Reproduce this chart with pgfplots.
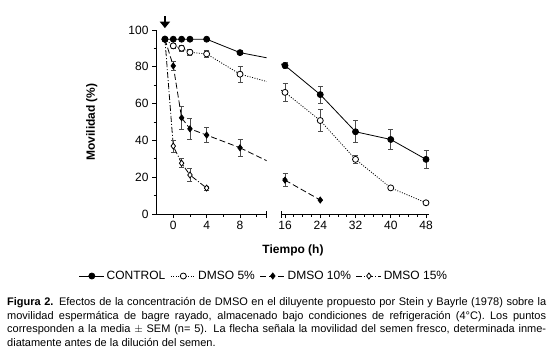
\documentclass[border=0pt]{standalone}
\usepackage{pgfplots}
\pgfplotsset{compat=1.18}
\usepackage{fontspec}
\setmainfont{Liberation Sans}
\usetikzlibrary{arrows.meta}
\begin{document}
\begin{tikzpicture}
\useasboundingbox (0pt,0pt) rectangle (556pt,357pt);
\pgfplotsset{
  every axis/.append style={
    scale only axis, height=184pt, ymin=0, ymax=100, anchor=south west,
    tick align=outside, major tick length=4pt, minor tick length=2.5pt,
    axis line style={line width=0.8pt}, every tick/.style={black, line width=0.7pt},
    tick label style={font=\fontsize{12}{14}\selectfont},
    /pgf/number format/assume math mode=true,
  },
  ctrl/.style={black, line width=0.8pt, mark=*, mark size=3pt},
  d5/.style={black, line width=0.8pt, dash pattern=on 1pt off 1.5pt, mark=*, mark size=3pt, mark options={solid, fill=white}},
  d10/.style={black, line width=0.8pt, dash pattern=on 6pt off 3pt, mark=diamond*, mark size=3pt, mark options={solid, fill=black}},
  d15/.style={black, line width=0.8pt, dash pattern=on 6pt off 2pt on 1pt off 2pt, mark=diamond*, mark size=3pt, mark options={solid, fill=white}},
  eb/.style={error bars/.cd, y dir=both, y explicit,
    error bar style={black!70, line width=0.7pt, solid},
    error mark options={rotate=90, mark size=2.5pt, black!70, line width=0.7pt, solid}},
}
% ---------- left panel ----------
\begin{axis}[name=left, at={(156pt,143pt)}, width=110.7pt,
  xmin=-2.07, xmax=11.2,
  axis x line*=bottom, axis y line*=left,
  xtick={0,4,8}, minor xtick={2,6,10},
  ytick={0,20,...,100}, minor ytick={10,30,...,90},
  ylabel={\bfseries Movilidad (\%)},
  ylabel style={font=\fontsize{12}{14}\selectfont, at={(axis description cs:-0.58,0.5)}, anchor=center},
  legend columns=4, reverse legend,
  legend style={draw=none, fill=none, at={(axis description cs:0.976,-0.337)}, anchor=center,
    font=\fontsize{12}{14}\selectfont, inner sep=0pt,
    /tikz/every even column/.append style={column sep=3pt}},
  legend image code/.code={\draw[mark repeat=2, mark phase=2] plot coordinates {(0pt,0pt) (12.5pt,0pt) (25pt,0pt)};},
]
% connecting lines to the break
\addplot[black, line width=0.8pt, forget plot] coordinates {(8,87.7) (16,80.7)};
\addplot[black, line width=0.8pt, dash pattern=on 1pt off 1.5pt, forget plot] coordinates {(8,76) (16,66.1)};
\addplot[black, line width=0.8pt, dash pattern=on 6pt off 3pt, forget plot] coordinates {(8,36) (16,18.4)};
\addplot[d15, eb] coordinates {(-1,95) +- (0,0) (0,36.9) +- (0,3.2) (1,27.6) +- (0,2.5) (2,21.2) +- (0,3.4) (4,14.1) +- (0,1)};
\addplot[d10, eb] coordinates {(-1,95) +- (0,0) (0,80.5) +- (0,2.7) (1,52.3) +- (0,6.3) (2,46.3) +- (0,5.9) (4,42.9) +- (0,4.2) (8,36) +- (0,4.5)};
\addplot[d5, eb] coordinates {(-1,95) +- (0,0) (0,91.4) +- (0,1.2) (1,90.1) +- (0,1.8) (2,87.9) +- (0,1.8) (4,87) +- (0,2) (8,76) +- (0,4.2)};
\addplot[ctrl, eb] coordinates {(-1,95) +- (0,0) (0,95) +- (0,0) (1,95) +- (0,0) (2,95) +- (0,0) (4,95) +- (0,0.5) (8,87.7) +- (0,1)};
\legend{DMSO 15\%, DMSO 10\%, DMSO 5\%, CONTROL}
\path (axis cs:-1,101) coordinate (arrowtip);
\end{axis}
% ---------- right panel ----------
\begin{axis}[name=right, at={(281pt,143pt)}, width=148.3pt,
  xmin=15.09, xmax=48.75,
  axis x line*=bottom, axis y line=none,
  xtick={16,24,...,48}, minor xtick={18,20,22,26,28,30,34,36,38,42,44,46},
  ytick=\empty,
  xlabel={\bfseries Tiempo (h)},
  xlabel style={font=\fontsize{12}{14}\selectfont, at={(axis description cs:0.081,-0.196)}, anchor=center},
]
\addplot[black, line width=0.8pt, forget plot] coordinates {(8,87.7) (16,80.7)};
\addplot[black, line width=0.8pt, dash pattern=on 1pt off 1.5pt, forget plot] coordinates {(8,76) (16,66.1)};
\addplot[black, line width=0.8pt, dash pattern=on 6pt off 3pt, forget plot] coordinates {(8,36) (16,18.4)};
\addplot[d10, eb] coordinates {(16,18.4) +- (0,3.6) (24,7.6) +- (0,0)};
\addplot[d5, eb] coordinates {(16,66.1) +- (0,5) (24,50.8) +- (0,5.9) (32,29.7) +- (0,2) (40,14.2) +- (0,0.8) (48,6.1) +- (0,0.5)};
\addplot[ctrl, eb] coordinates {(16,80.7) +- (0,1.5) (24,64.9) +- (0,4.5) (32,44.7) +- (0,6) (40,40.5) +- (0,5.4) (48,29.7) +- (0,5.1)};
\end{axis}
% break caps
\draw[line width=0.7pt] ([yshift=-3.5pt]left.south east) -- ([yshift=3.5pt]left.south east);
\draw[line width=0.7pt] ([yshift=-3.5pt]right.south west) -- ([yshift=3.5pt]right.south west);
% arrow (fresh semen)
\draw[line width=2.6pt, -{Triangle[width=10pt,length=6.5pt]}] ([yshift=12pt]arrowtip) -- (arrowtip);
% caption
\node[anchor=north west, inner sep=0pt, align=justify, text width=539pt,
  font=\fontsize{11}{13.7}\selectfont] at (7pt,60pt) {%
\textbf{Figura 2.} Efectos de la concentración de DMSO en el diluyente propuesto por Stein y Bayrle (1978) sobre la\linebreak
movilidad espermática de bagre rayado, almacenado bajo condiciones de refrigeración (4°C). Los puntos\linebreak
corresponden a la media $\pm$ SEM (n= 5). La flecha señala la movilidad del semen fresco, determinada inme-\linebreak
diatamente antes de la dilución del semen.};
\end{tikzpicture}
\end{document}
